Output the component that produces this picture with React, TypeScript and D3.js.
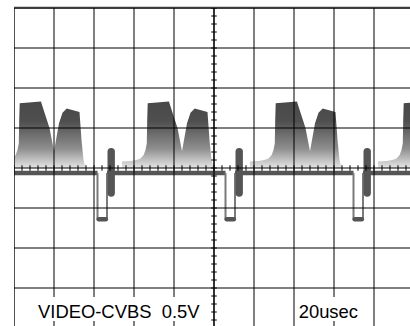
import React from "react";
import * as d3 from "d3";

// ---- data ----
// time axis: microseconds from the left edge of the screen (20 us / div, 10 div)
// voltage axis: volts (0.5 V / div, 8 div, 0 V at centre line)
const syncStarts = [-22.25, 41.75, 105.75, 169.75]; // start of each line sync pulse (us)
const syncWidth = 4.75; // us
const blankLevel = -0.0625; // V
const syncLevel = -0.64; // V
const burstOffset = 6.85; // us after sync start (centre of burst)
const burstTop = 0.25; // V
const burstBottom = -0.36; // V

// video content of one line, time relative to the sync start (us), level (V)
const videoT = [12.25, 12.25, 16.5, 19.5, 21.5, 23, 24, 24.65, 24.85, 25.1, 35.7, 40, 42.25, 44.75, 46.5, 48.6, 55, 56, 57, 57.8, 58];
const videoV = [0, 0.08, 0.0875, 0.1, 0.12, 0.16, 0.225, 0.31, 0.6, 0.81, 0.83, 0.5, 0.21, 0.56, 0.69, 0.745, 0.7, 0.35, 0.1, 0.025, 0];

const timeTicks = d3.range(0, 201, 20);
const voltTicks = d3.range(-2, 2.01, 0.5);
const minorTimeTicks = d3.range(0, 201, 4);
const minorVoltTicks = d3.range(-2, 2.01, 0.1);

const voltLabel = "VIDEO-CVBS  0.5V";
const timeLabel = "20usec";

export default function App() {
  const W = 410;
  const H = 326;
  const x = d3.scaleLinear().domain([0, 200]).range([14, 414]);
  const y = d3.scaleLinear().domain([-2, 2]).range([328, 8]);

  const pts = videoT.map((t, i) => [t, videoV[i]] as [number, number]);
  const area = (s: number) =>
    d3
      .area<[number, number]>()
      .x((d) => x(s + d[0]))
      .y0(y(0))
      .y1((d) => y(d[1]))(pts) || "";

  const bandSegs: [number, number][] = [];
  for (let i = 0; i < syncStarts.length; i++) {
    const from = syncStarts[i] + syncWidth;
    const to = i + 1 < syncStarts.length ? syncStarts[i + 1] : 210;
    bandSegs.push([from, to]);
  }

  const syncPath = (s: number) => {
    const p = d3.path();
    p.moveTo(x(s), y(blankLevel));
    p.lineTo(x(s), y(syncLevel));
    p.moveTo(x(s + syncWidth), y(syncLevel));
    p.lineTo(x(s + syncWidth), y(blankLevel));
    return p.toString();
  };

  const trace = "#555";
  const fontFamily = "'Liberation Sans', Arial, Helvetica, sans-serif";

  return (
    <svg
      width={W}
      height={H}
      style={{ position: "absolute", left: 0, top: 0, background: "#fff" }}
    >
      <defs>
        <clipPath id="scr">
          <rect x={14} y={8} width={400} height={320} />
        </clipPath>
        <linearGradient id="vid" gradientUnits="userSpaceOnUse" x1={0} x2={0} y1={y(0.81)} y2={y(0)}>
          <stop offset="0" stopColor="#494949" />
          <stop offset="0.28" stopColor="#4f4f4f" />
          <stop offset="0.7" stopColor="#8e8e8e" />
          <stop offset="1" stopColor="#e6e6e6" />
        </linearGradient>
      </defs>
      <rect x={0} y={0} width={W} height={H} fill="#fff" />
      <g clipPath="url(#scr)">
        {syncStarts.map((s, i) => (
          <path key={"v" + i} d={area(s)} fill="url(#vid)" />
        ))}
        {bandSegs.map((b, i) => (
          <line
            key={"b" + i}
            x1={x(b[0])}
            x2={x(b[1])}
            y1={y(blankLevel)}
            y2={y(blankLevel)}
            stroke={trace}
            strokeWidth={4.5}
          />
        ))}
        {syncStarts.map((s, i) => (
          <g key={"s" + i}>
            <path d={syncPath(s)} stroke="#7a7a7a" strokeWidth={2} fill="none" />
            <line
              x1={x(s) + 1.2}
              x2={x(s + syncWidth) - 1.2}
              y1={y(syncLevel)}
              y2={y(syncLevel)}
              stroke={trace}
              strokeWidth={4.5}
              strokeLinecap="round"
            />
            <line
              x1={x(s + burstOffset)}
              x2={x(s + burstOffset)}
              y1={y(burstTop) + 3.7}
              y2={y(burstBottom) - 3.7}
              stroke={trace}
              strokeWidth={7.4}
              strokeLinecap="round"
            />
          </g>
        ))}
        {/* grid */}
        {timeTicks.map((t) => (
          <line
            key={"gx" + t}
            x1={x(t)}
            x2={x(t)}
            y1={8}
            y2={328}
            stroke="#000"
            strokeOpacity={t === 0 ? 0.68 : 0.5}
            strokeWidth={2}
          />
        ))}
        {voltTicks.map((v) => (
          <line
            key={"gy" + v}
            x1={14}
            x2={414}
            y1={y(v)}
            y2={y(v)}
            stroke="#000"
            strokeWidth={1.2}
          />
        ))}
        {/* centre axes with minor ticks */}
        <line x1={x(100)} x2={x(100)} y1={8} y2={328} stroke="#222" strokeWidth={1.6} />
        {minorTimeTicks.map((t) => (
          <line
            key={"mt" + t}
            x1={x(t)}
            x2={x(t)}
            y1={y(0) - 2.8}
            y2={y(0) + 2.8}
            stroke="#000"
            strokeWidth={1}
          />
        ))}
        {minorVoltTicks.map((v, i) => (
          <line
            key={"mv" + i}
            x1={x(100) - 2.8}
            x2={x(100) + 2.8}
            y1={y(v)}
            y2={y(v)}
            stroke="#000"
            strokeWidth={1}
          />
        ))}
      </g>
      <line x1={14} x2={410} y1={6.8} y2={6.8} stroke="#bbb" strokeWidth={1} />
      <line x1={14} x2={410} y1={7.8} y2={7.8} stroke="#000" strokeWidth={1.2} />
      {/* labels */}
      <rect x={36} y={297} width={166} height={24} fill="#fff" />
      <text
        x={38}
        y={318.3}
        fontFamily={fontFamily}
        fontSize={18.4}
        fill="#000"
        style={{ whiteSpace: "pre" }}
      >
        {voltLabel}
      </text>
      <rect x={297} y={297} width={64} height={24} fill="#fff" />
      <text x={298.7} y={318.3} fontFamily={fontFamily} fontSize={18.4} fill="#000">
        {timeLabel}
      </text>
    </svg>
  );
}
